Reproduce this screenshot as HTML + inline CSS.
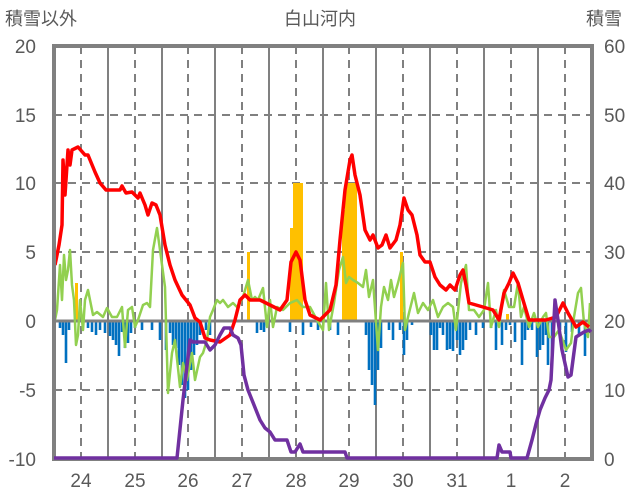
<!DOCTYPE html><html><head><meta charset="utf-8"><style>body{margin:0;background:#fff}svg{display:block}text{font-family:"Liberation Sans","Noto Sans CJK JP",sans-serif;fill:#595959}</style></head><body>
<svg width="636" height="501" xmlns="http://www.w3.org/2000/svg">
<g font-size="18">
<text x="5" y="25">積雪以外</text>
<text x="320" y="25" text-anchor="middle">白山河内</text>
<text x="586" y="25">積雪</text>
</g>
<g font-size="19" text-anchor="end">
<text x="36" y="53">20</text><text x="36" y="122">15</text><text x="36" y="190">10</text><text x="36" y="259">5</text><text x="36" y="328">0</text><text x="36" y="397">-5</text><text x="36" y="466">-10</text>
</g>
<g font-size="19">
<text x="604" y="53">60</text><text x="604" y="122">50</text><text x="604" y="190">40</text><text x="604" y="259">30</text><text x="604" y="328">20</text><text x="604" y="397">10</text><text x="604" y="466">0</text>
</g>
<g font-size="19" text-anchor="middle">
<text x="81" y="487">24</text><text x="135" y="487">25</text><text x="188" y="487">26</text><text x="242" y="487">27</text><text x="296" y="487">28</text><text x="349" y="487">29</text><text x="403" y="487">30</text><text x="457" y="487">31</text><text x="511" y="487">1</text><text x="565" y="487">2</text>
</g>
<g stroke="#808080" stroke-width="2" stroke-dasharray="8,6" fill="none">
<path d="M54 115H592M54 183H592M54 252H592M54 390H592"/>
<path d="M81 46V459M135 46V459M188 46V459M242 46V459M296 46V459M349 46V459M403 46V459M457 46V459M511 46V459M565 46V459"/>
</g>
<g stroke="#808080" stroke-width="2">
<path d="M108 46V459M162 46V459M215 46V459M269 46V459M323 46V459M376 46V459M430 46V459M484 46V459M538 46V459"/>
</g>
<g fill="#FFC000">
<rect x="75" y="283" width="3" height="38"/><rect x="247" y="252" width="3" height="69"/><rect x="290" y="228" width="3" height="93"/><rect x="293" y="183" width="10" height="138"/><rect x="342" y="210" width="3" height="111"/><rect x="345" y="183" width="12" height="138"/><rect x="400" y="252" width="3" height="69"/><rect x="506" y="314" width="3" height="7"/>
</g>
<g stroke="#0070C0" stroke-width="2.6">
<path d="M60 321V328M63 321V335M66 321V363M69 321V330M88 321V328M92 321V332M96 321V335M100 321V330M105 321V333M110 321V336M113 321V340M116 321V345M119 321V356M122 321V332M125 321V348M128 321V343M131 321V333M135 321V328M142 321V330M152 321V330M160 321V340M166 321V350M170 321V333M173 321V345M176 321V348M179 321V365M182 321V385M185 321V398M188 321V390M191 321V370M194 321V355M197 321V345M200 321V335M206 321V330M210 321V335M257 321V333M261 321V330M264 321V332M290 321V332M303 321V335M311 321V327M318 321V330M330 321V330M338 321V335M366 321V335M369 321V370M372 321V385M375 321V405M378 321V370M381 321V348M389 321V330M393 321V340M400 321V330M404 321V355M407 321V340M412 321V325M431 321V335M434 321V350M437 321V350M440 321V328M443 321V335M447 321V350M450 321V349M453 321V351M457 321V340M460 321V355M463 321V350M466 321V340M470 321V330M476 321V335M483 321V328M491 321V328M496 321V350M502 321V345M506 321V330M510 321V325M515 321V342M522 321V365M525 321V340M528 321V330M532 321V330M537 321V357M540 321V350M543 321V345M546 321V335M548 321V365M552 321V360M560 321V330M566 321V352M572 321V332M579 321V335M585 321V356"/>
</g>
<path d="M54 321H592" stroke="#808080" stroke-width="3"/>
<polyline fill="none" stroke="#92D050" stroke-width="2.5" stroke-linejoin="round" points="54,325 57,310 60,265 62,300 64,255 66,280 68,270 70,250 72,285 74,300 76,345 78,335 80,300 83,330 85,300 88,290 90,300 93,315 97,312 103,317 107,308 112,317 117,317 122,307 125,347 128,310 132,307 135,327 138,320 143,305 147,303 150,307 153,250 157,228 160,250 165,287 168,393 172,353 175,340 180,387 183,363 187,380 192,353 195,380 200,357 203,353 207,340 210,317 213,310 217,300 220,303 223,300 228,307 233,303 237,307 240,303 243,297 248,280 252,300 255,297 258,300 263,288 267,327 270,300 273,327 277,307 283,310 290,303 297,300 303,307 310,307 317,320 323,330 326,283 329,330 334,303 339,270 343,257 346,283 349,277 353,280 358,283 363,287 366,270 369,297 373,280 378,350 381,307 384,287 388,300 391,280 394,297 398,283 403,263 405,330 409,313 414,293 418,313 423,303 428,310 433,300 438,317 443,307 448,303 453,307 456,330 461,283 466,265 469,310 474,310 479,317 484,310 488,283 491,327 496,310 499,327 504,290 509,307 514,307 518,283 521,317 524,307 529,327 534,313 538,327 543,317 546,313 549,337 554,337 559,330 566,350 571,343 574,317 578,293 581,288 584,323 588,337 590,303"/>
<polyline fill="none" stroke="#FF0000" stroke-width="3.5" stroke-linejoin="round" points="55,265 59,245 62,225 63,160 65,195 68,150 70,165 72,150 78,147 85,155 88,155 95,172 100,183 106,190 120,190 122,186 126,193 132,192 138,198 140,193 145,205 148,215 152,203 156,205 160,215 165,245 170,265 175,280 182,295 190,305 195,318 200,322 205,338 210,340 220,342 230,335 235,320 240,300 245,295 250,300 260,300 270,305 280,310 287,300 291,262 296,252 300,260 305,300 310,315 320,320 330,310 336,285 340,240 345,190 350,160 352,155 355,175 360,195 365,230 370,240 373,235 378,248 382,245 386,235 390,248 396,240 400,225 404,198 408,210 412,215 417,235 420,255 425,262 430,262 435,277 440,285 446,290 450,285 455,290 460,275 463,270 466,285 469,303 483,307 493,310 499,320 504,293 509,283 513,273 518,283 523,300 529,320 546,320 556,317 563,303 568,313 576,327 583,322 589,327"/>
<rect x="54" y="46" width="538" height="413" fill="none" stroke="#808080" stroke-width="4"/>
<polyline fill="none" stroke="#7030A0" stroke-width="3.5" stroke-linejoin="round" points="54,458 177,458 183,400 190,340 193,342 205,342 210,350 215,345 220,335 224,328 230,328 233,335 238,338 241,345 244,375 248,390 252,400 256,410 260,420 265,428 270,432 275,440 287,440 291,452 295,452 300,444 303,452 345,452 347,458 497,458 499,445 502,452 510,452 511,458 527,458 532,440 536,424 540,410 545,398 549,390 551,380 555,300 558,320 562,350 568,377 571,375 576,337 584,332 589,330 591,332"/>
</svg></body></html>
